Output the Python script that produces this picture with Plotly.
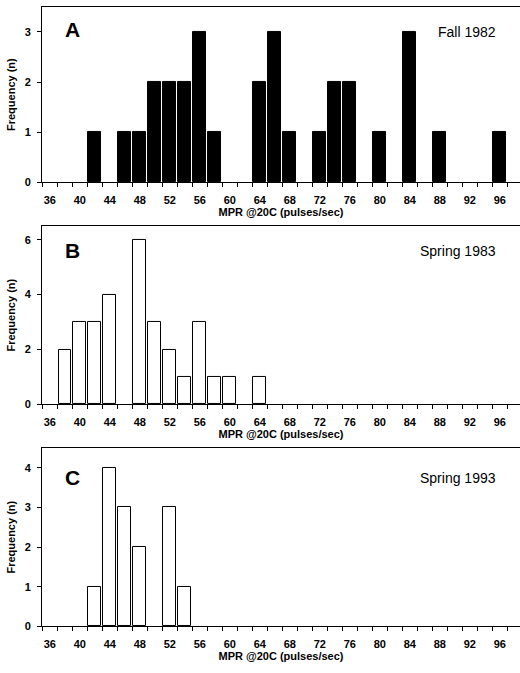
import plotly.graph_objects as go

# Bin centres (MPR @20C, pulses/sec)
bins_a = [42, 46, 48, 50, 52, 54, 56, 58, 64, 66, 68, 72, 74, 76, 80, 84, 88, 96]
freq_a = [1, 1, 1, 2, 2, 2, 3, 1, 2, 3, 1, 1, 2, 2, 1, 3, 1, 1]

bins_b = [38, 40, 42, 44, 48, 50, 52, 54, 56, 58, 60, 64]
freq_b = [2, 3, 3, 4, 6, 3, 2, 1, 3, 1, 1, 1]

bins_c = [42, 44, 46, 48, 52, 54]
freq_c = [1, 4, 3, 2, 3, 1]

x_tick_labels = list(range(36, 100, 4))
panel_letters = ["A", "B", "C"]
panel_titles = ["Fall 1982", "Spring 1983", "Spring 1993"]

W, H = 520, 673
L = 42
FONT = "Liberation Sans, Arial, sans-serif"

fig = go.Figure()
fig.add_trace(go.Bar(x=bins_a, y=freq_a, width=1.7, marker=dict(color="black", line=dict(color="black", width=1)),
                     xaxis="x", yaxis="y", showlegend=False))
fig.add_trace(go.Bar(x=bins_b, y=freq_b, width=1.7, marker=dict(color="white", line=dict(color="black", width=1)),
                     xaxis="x2", yaxis="y2", showlegend=False))
fig.add_trace(go.Bar(x=bins_c, y=freq_c, width=1.7, marker=dict(color="white", line=dict(color="black", width=1)),
                     xaxis="x3", yaxis="y3", showlegend=False))

# pixel boxes: (top, bottom)
boxes = [(7, 184), (228, 408), (452, 632)]
yranges = [[0, 3.5], [0, 6.5], [0, 4.5]]
ydticks = [1, 2, 1]

def dom(top, bottom):
    return [1 - bottom / H, 1 - top / H]

layout = dict(
    width=W, height=H,
    margin=dict(l=L, r=0, t=0, b=0),
    paper_bgcolor="white", plot_bgcolor="white",
    font=dict(family=FONT, color="black", size=11),
    bargap=0,
)

for i, (top, bottom) in enumerate(boxes):
    sx = "" if i == 0 else str(i + 1)
    layout["xaxis" + sx] = dict(
        domain=[0, 1], anchor="y" + sx, range=[34.95, 98.7],
        tickmode="array", tickvals=x_tick_labels, ticktext=[str(v) for v in x_tick_labels],
        ticks="outside", ticklen=7, tickcolor="rgba(0,0,0,0)",
        minor=dict(tickmode="linear", tick0=37, dtick=2, ticks="outside", ticklen=4, tickcolor="black", tickwidth=1),
        showline=True, linecolor="black", linewidth=1, mirror=True,
        showgrid=False, zeroline=False,
        tickfont=dict(family=FONT, size=11, weight="bold"),
        title=dict(text="MPR @20C (pulses/sec)", font=dict(family=FONT, size=11, weight="bold"), standoff=3),
    )
    layout["yaxis" + sx] = dict(
        domain=dom(top, bottom), anchor="x" + sx, range=yranges[i],
        tickmode="linear", tick0=0, dtick=ydticks[i],
        ticks="outside", ticklen=4, tickcolor="black", ticklabelstandoff=4,
        showline=True, linecolor="black", linewidth=1, mirror=False,
        showgrid=False, zeroline=False,
        tickfont=dict(family=FONT, size=11, weight="bold"),
        title=dict(text="Frequency (n)", font=dict(family=FONT, size=11, weight="bold"), standoff=6),
    )

def px_x(p):
    return (p - L) / (W - L)

annotations = []
letter_y = [30, 253, 482]
title_y = [32, 253, 482]
for i in range(3):
    annotations.append(dict(text="<b>%s</b>" % panel_letters[i], x=px_x(72),
                            xref="paper", y=1 - letter_y[i] / H, yref="paper",
                            showarrow=False, font=dict(family=FONT, size=21, color="black"),
                            xanchor="center", yanchor="middle"))
    annotations.append(dict(text=panel_titles[i], x=px_x(498), xref="paper",
                            y=1 - title_y[i] / H, yref="paper",
                            showarrow=False, font=dict(family=FONT, size=14, color="black"),
                            xanchor="right", yanchor="middle"))
layout["annotations"] = annotations

fig.update_layout(**layout)
fig.write_html("out.html")
